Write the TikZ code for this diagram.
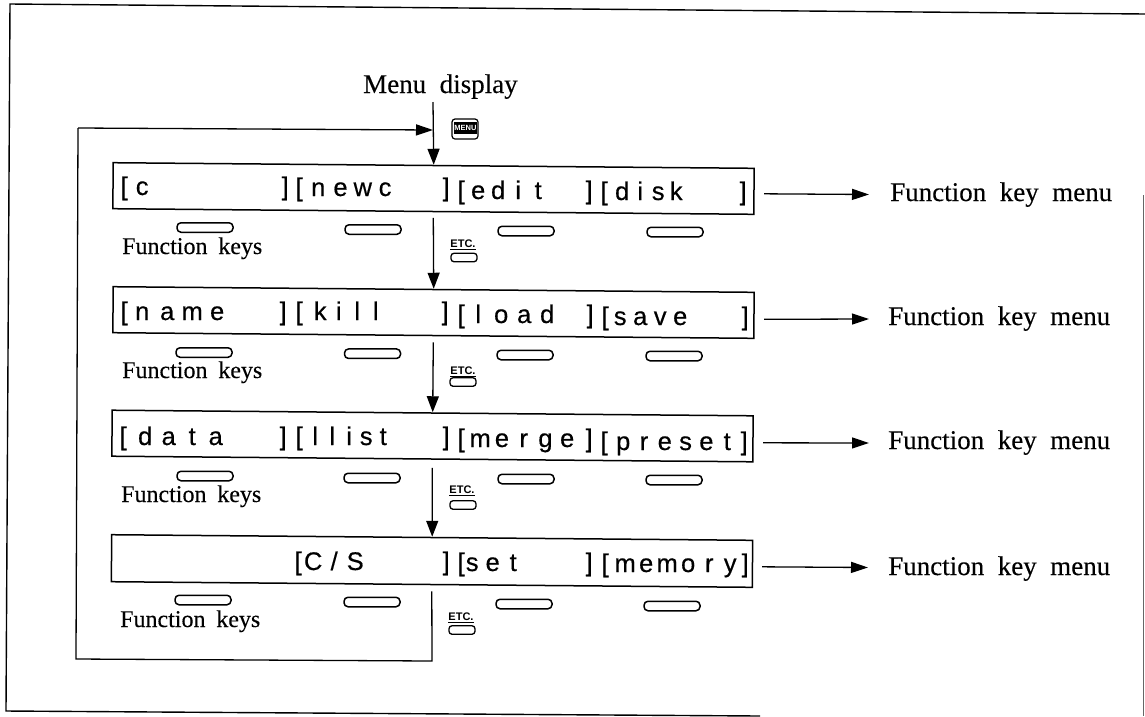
\documentclass[tikz,border=0pt]{standalone}
\usepackage{fontspec}
\setmainfont[FakeBold=0.25]{Liberation Serif}
\newfontfamily\dispfont[FakeBold=0.45]{Liberation Sans}
\newfontfamily\capfont{Liberation Sans}
\usetikzlibrary{arrows.meta}
\tikzset{
  x=1pt,y=-1pt,
  frame/.style={draw,line width=1.4pt},
  display/.style={draw,line width=1.5pt,rotate=-0.5,minimum width=641pt,minimum height=46pt,inner sep=0pt},
  disptext/.style={anchor=base west,inner sep=0pt,font=\dispfont\fontsize{25.5}{26}\selectfont},
  fkey/.style={draw,line width=1.5pt,rounded corners=4pt,minimum width=56pt,minimum height=9.5pt,inner sep=0pt},
  etckey/.style={draw,line width=1.3pt,rounded corners=3pt,minimum width=26pt,minimum height=8.5pt,inner sep=0pt},
  fklabel/.style={inner sep=0pt,anchor=base west,font={\fontsize{24}{24}\selectfont\spaceskip=.45em\relax}},
  menulabel/.style={inner sep=0pt,anchor=base west,font={\fontsize{27}{27}\selectfont\spaceskip=.5em\relax}},
  etclabel/.style={inner sep=0pt,font=\capfont\bfseries\fontsize{11}{11}\selectfont},
  link/.style={line width=1.3pt,-{Triangle[length=16pt,width=12pt]}},
  hlink/.style={line width=1.3pt,-{Triangle[length=17pt,width=11pt]}},
  plain/.style={line width=1.3pt},
  menukey/.style={draw,line width=1.2pt,rounded corners=3pt,minimum width=26pt,minimum height=20pt,inner sep=0pt},
  menucap/.style={fill=black,text=white,inner sep=0pt,minimum width=23pt,minimum height=12pt,font=\capfont\bfseries\fontsize{7.5}{7.5}\selectfont},
}
\newlength\cellw
\def\cellsloop#1{\ifx#1\relax\else\makebox[\cellw]{#1}\expandafter\cellsloop\fi}
% name, baseline, x of [, centre x of first letter, pitch, word, x of ]
\newcommand\dfield[7]{%
  \setlength\cellw{#5pt}%
  \pgfmathsetlengthmacro\celloff{#4-#3-#5/2}%
  \pgfmathsetlengthmacro\closeoff{#7-#3}%
  \node[disptext] (#1) at (#3,#2) {\rlap{\makebox[0pt]{[}}\rlap{\hspace{\celloff}\cellsloop#6\relax}\hspace{\closeoff}\makebox[0pt]{]}};%
}
\begin{document}
\begin{tikzpicture}
\useasboundingbox (0,0) rectangle (1145,716);
% outer frame, open where the scan runs off the page
\draw[frame] (1145,14) -- (10,4) -- (6,711) -- (760,716);
\draw[line width=.8pt,black!60] (1143,195) -- (1143,716);
% title
\node[menulabel] (title) at (363,93) {Menu display};
% displays
\node[display] (d1) at (433.5,188.5) {};
\node[display] (d2) at (433.5,312.5) {};
\node[display] (d3) at (432.5,436) {};
\node[display,minimum height=47pt] (d4) at (432,561) {};
% display texts
\dfield{f11}{195}{124}{142}{20}{c}{285}
\dfield{f12}{196}{299}{318}{22.3}{newc}{446}
\dfield{f13}{199}{461}{478}{20}{edit}{589}
\dfield{f14}{200}{604}{622}{18}{disk}{743}
\dfield{f21}{320}{124}{142}{25}{name}{283}
\dfield{f22}{320}{299}{320}{18.5}{kill}{445}
\dfield{f23}{323}{461}{478}{23}{load}{590}
\dfield{f24}{325}{605}{620}{20}{save}{745}
\dfield{f31}{445}{123}{145}{23.5}{data}{283}
\dfield{f32}{445}{299}{315}{17}{llist}{446}
\dfield{f33}{447}{461}{480}{21.75}{merge}{589}
\dfield{f34}{450}{604}{623}{20.8}{preset}{744}
\dfield{f42}{570}{298}{313}{21}{C/S}{446}
\dfield{f43}{571}{461}{472}{20.5}{set}{589}
\dfield{f44}{572}{605}{625}{21}{memory}{745}
% function keys
\node[fkey] (k11) at (205,227.5) {};
\node[fkey] (k12) at (373,229.5) {};
\node[fkey] (k13) at (526,231) {};
\node[fkey] (k14) at (675,232) {};
\node[fkey] (k21) at (204,352.5) {};
\node[fkey] (k22) at (372.5,353.7) {};
\node[fkey] (k23) at (525,355) {};
\node[fkey] (k24) at (674,356) {};
\node[fkey] (k31) at (205,476) {};
\node[fkey] (k32) at (372,478) {};
\node[fkey] (k33) at (526,479) {};
\node[fkey] (k34) at (674,480) {};
\node[fkey] (k41) at (203,600) {};
\node[fkey] (k42) at (372,602) {};
\node[fkey] (k43) at (524,604) {};
\node[fkey] (k44) at (672,606) {};
% key captions
\node[fklabel] (fl1) at (122,254) {Function keys};
\node[fklabel] (fl2) at (122,378) {Function keys};
\node[fklabel] (fl3) at (121,502) {Function keys};
\node[fklabel] (fl4) at (120,627) {Function keys};
% ETC keys
\node[etclabel] (el1) at (463,245) {\underline{ETC.}};
\node[etckey] (e1) at (464,257.5) {};
\node[etclabel] (el2) at (463,372) {\underline{ETC.}};
\node[etckey] (e2) at (463,382) {};
\node[etclabel] (el3) at (462,491) {\underline{ETC.}};
\node[etckey] (e3) at (463,505) {};
\node[etclabel] (el4) at (461,618) {\underline{ETC.}};
\node[etckey] (e4) at (462,630) {};
% MENU key
\node[menukey] (mk) at (465,129) {};
\node[menucap] (mc) at (465.5,128) {MENU};
% right-hand labels
\node[menulabel] (m1) at (890,201) {Function key menu};
\node[menulabel] (m2) at (888,325) {Function key menu};
\node[menulabel] (m3) at (888,449) {Function key menu};
\node[menulabel] (m4) at (888,575) {Function key menu};
\draw[hlink] ([shift={(9.5,2.5)}]d1.east) -- ([shift={(-21,-6.5)}]m1.base west);
\draw[hlink] ([shift={(9.5,4)}]d2.east) -- ([shift={(-19,-6)}]m2.base west);
\draw[hlink] ([shift={(9.5,4)}]d3.east) -- ([shift={(-19,-6)}]m3.base west);
\draw[hlink] ([shift={(9,3)}]d4.east) -- ([shift={(-20,-7.5)}]m4.base west);
% main flow
\coordinate (top) at (433,102);
\coordinate (join) at (433,130);
\coordinate (looptl) at (78,128);
\coordinate (loopbl) at (76,659);
\coordinate (loopbr) at (432,661);
\draw[link] (top) -- (d1.north);
\draw[link] ([shift={(0,5.5)}]d1.south) -- (d2.north);
\draw[link] ([shift={(0,6)}]d2.south) -- (d3.north);
\draw[link] ([shift={(0,8)}]d3.south) -- (d4.north);
\draw[plain] ([shift={(0,6)}]d4.south) -- (loopbr) -- (loopbl) -- (looptl);
\draw[hlink] (looptl) -- (join);
\end{tikzpicture}
\end{document}
